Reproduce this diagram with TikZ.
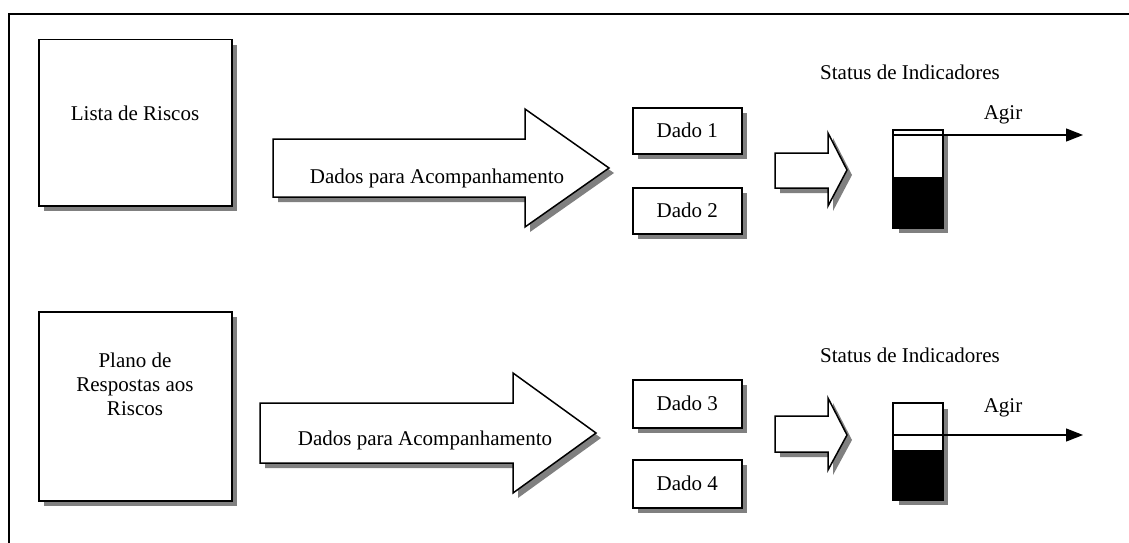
\documentclass[tikz,border=0pt]{standalone}
\usepackage{fontspec}
\setmainfont{Liberation Serif}
\usetikzlibrary{shadows,arrows.meta}
\begin{document}
\begin{tikzpicture}[x=1pt,y=-1pt,
  every node/.style={font=\fontsize{21}{24}\selectfont},
  shad/.style={drop shadow={shadow xshift=5pt,shadow yshift=-5pt,fill=black!50,opacity=1}},
  boxx/.style={draw,line width=1.5pt,fill=white,shad,anchor=north west,inner sep=0pt},
  bigarrow/.style={draw,line width=1.5pt,fill=white,line join=miter,shad},
  lbl/.style={inner sep=1pt,align=center},
  actarrow/.style={line width=1.3pt,-{Triangle[length=17pt,width=13pt]}}
]
\useasboundingbox (0,0) rectangle (1129,543);
% frame
\draw[line width=1.5pt] (9,543) -- (9,14) -- (1129,14);

% ---------- top row ----------
\node[boxx,minimum width=193pt,minimum height=166pt] (b1) at (38,39) {};
\node[lbl] (t1) at (135,113) {Lista de Riscos};

\path[bigarrow] (273,139) -- (525,139) -- (525,109) -- (609,168) -- (525,227) -- (525,197) -- (273,197) -- cycle;
\node[lbl] (d1) at (437,178) {Dados para Acompanhamento};

\node[boxx,minimum width=109pt,minimum height=46pt] (k1) at (632,107) {};
\node[lbl] at (k1.center) {Dado 1};
\node[boxx,minimum width=109pt,minimum height=46pt] (k2) at (632,187) {};
\node[lbl] at (k2.center) {Dado 2};

\path[bigarrow] (775,153) -- (828,153) -- (828,133) -- (847,170) -- (828,206) -- (828,188) -- (775,188) -- cycle;

\node[lbl] (s1) at (910,72) {Status de Indicadores};
\node[boxx,line width=1.2pt,minimum width=49pt,minimum height=97pt] (i1) at (893,130) {};
\fill[black] (893,177) rectangle (942,227);
\draw[line width=1.2pt] (i1.north west) rectangle (i1.south east);
\coordinate (a1s) at (893,135);
\coordinate (a1e) at (1083,135);
\draw[actarrow] (a1s) -- (a1e);
\node[lbl] (ag1) at (1003,115) {Agir};

% ---------- bottom row ----------
\node[boxx,minimum width=193pt,minimum height=189pt] (b2) at (38,311) {};
\node[lbl] (t2) at (135,384) {Plano de\\Respostas aos\\Riscos};

\path[bigarrow] (260,403) -- (513,403) -- (513,373) -- (596,433) -- (513,493) -- (513,463) -- (260,463) -- cycle;
\node[lbl] (d2) at (425,440) {Dados para Acompanhamento};

\node[boxx,minimum width=109pt,minimum height=48pt] (k3) at (632,379) {};
\node[lbl] at (k3.center) {Dado 3};
\node[boxx,minimum width=109pt,minimum height=48pt] (k4) at (632,459) {};
\node[lbl] at (k4.center) {Dado 4};

\path[bigarrow] (775,416) -- (828,416) -- (828,398) -- (847,435) -- (828,470) -- (828,452) -- (775,452) -- cycle;

\node[lbl] (s2) at (910,355) {Status de Indicadores};
\node[boxx,line width=1.2pt,minimum width=49pt,minimum height=96pt] (i2) at (893,403) {};
\fill[black] (893,450) rectangle (942,499);
\draw[line width=1.2pt] (i2.north west) rectangle (i2.south east);
\coordinate (a2s) at (893,435);
\coordinate (a2e) at (1083,435);
\draw[actarrow] (a2s) -- (a2e);
\node[lbl] (ag2) at (1003,408) {Agir};
\end{tikzpicture}
\end{document}
